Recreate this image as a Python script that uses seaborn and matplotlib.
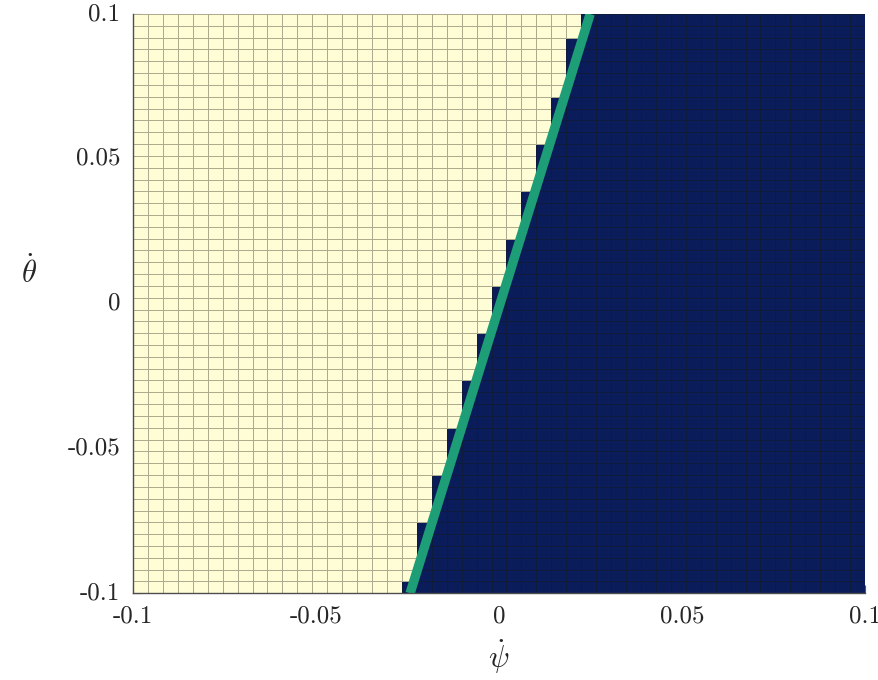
import numpy as np
import pandas as pd
import matplotlib
matplotlib.use("Agg")
import matplotlib.pyplot as plt
from matplotlib.colors import ListedColormap
import seaborn as sns

# 49 x 49 cells over psi_dot, theta_dot in [-0.1, 0.1]
n_cells = 49
tick_values = [-0.1, -0.05, 0, 0.05, 0.1]
tick_labels = ['-0.1', '-0.05', '0', '0.05', '0.1']

# first dark column in each row, bottom row first
first_dark_col = [18,
                  19, 19, 19, 19, 19,
                  20, 20, 20, 20,
                  21, 21, 21, 21,
                  22, 22, 22, 22,
                  23, 23, 23, 23,
                  24, 24, 24, 24,
                  25, 25, 25, 25,
                  26, 26, 26, 26,
                  27, 27, 27, 27,
                  28, 28, 28, 28,
                  29, 29, 29, 29, 29,
                  30, 30]

# green boundary line end points
line_psi = [-0.0243, 0.0249]
line_theta = [-0.1, 0.1]

sns.set_style('white')
plt.rcParams['font.family'] = ['cmr10', 'DejaVu Serif']
plt.rcParams['mathtext.fontset'] = 'cm'
plt.rcParams['axes.unicode_minus'] = False
plt.rcParams['axes.formatter.use_mathtext'] = True

cols = np.arange(n_cells)
grid = np.array([(cols >= c).astype(int) for c in first_dark_col])
region = pd.DataFrame(grid)

fig = plt.figure(figsize=(8.79, 6.8), dpi=100)
ax = fig.add_axes([0.1513, 0.1275, 0.8328, 0.8519])

sns.heatmap(region, cmap=ListedColormap(['#fffdd6', '#0a1c59']), cbar=False,
            linewidths=0.7, linecolor=(0.1, 0.1, 0.05, 0.36), ax=ax)
ax.set_xlim(0, n_cells)
ax.set_ylim(0, n_cells)


def to_idx(v):
    return (np.asarray(v) + 0.1) / 0.2 * n_cells


sns.lineplot(x=to_idx(line_psi), y=to_idx(line_theta), color='#1d9e76',
             linewidth=6.8, ax=ax, solid_capstyle='butt')

ax.set_xticks(to_idx(tick_values))
ax.set_xticklabels(tick_labels, rotation=0)
ax.set_yticks(to_idx(tick_values))
ax.set_yticklabels(tick_labels, rotation=0)
ax.tick_params(axis='both', direction='in', length=6, width=0.8,
               color='#555555', labelsize=18, pad=9,
               bottom=True, left=True)

for side in ['left', 'bottom']:
    ax.spines[side].set_visible(True)
    ax.spines[side].set_color('#4d4d4d')
    ax.spines[side].set_linewidth(1.0)

ax.set_xlabel(r'$\dot{\psi}$', fontsize=22, va='center')
ax.set_ylabel(r'$\dot{\theta}$', fontsize=22, rotation=0, ha='center', va='center')
ax.xaxis.set_label_coords(0.5, -0.11)
ax.yaxis.set_label_coords(-0.142, 0.555)

plt.savefig('out.png', dpi=100)
